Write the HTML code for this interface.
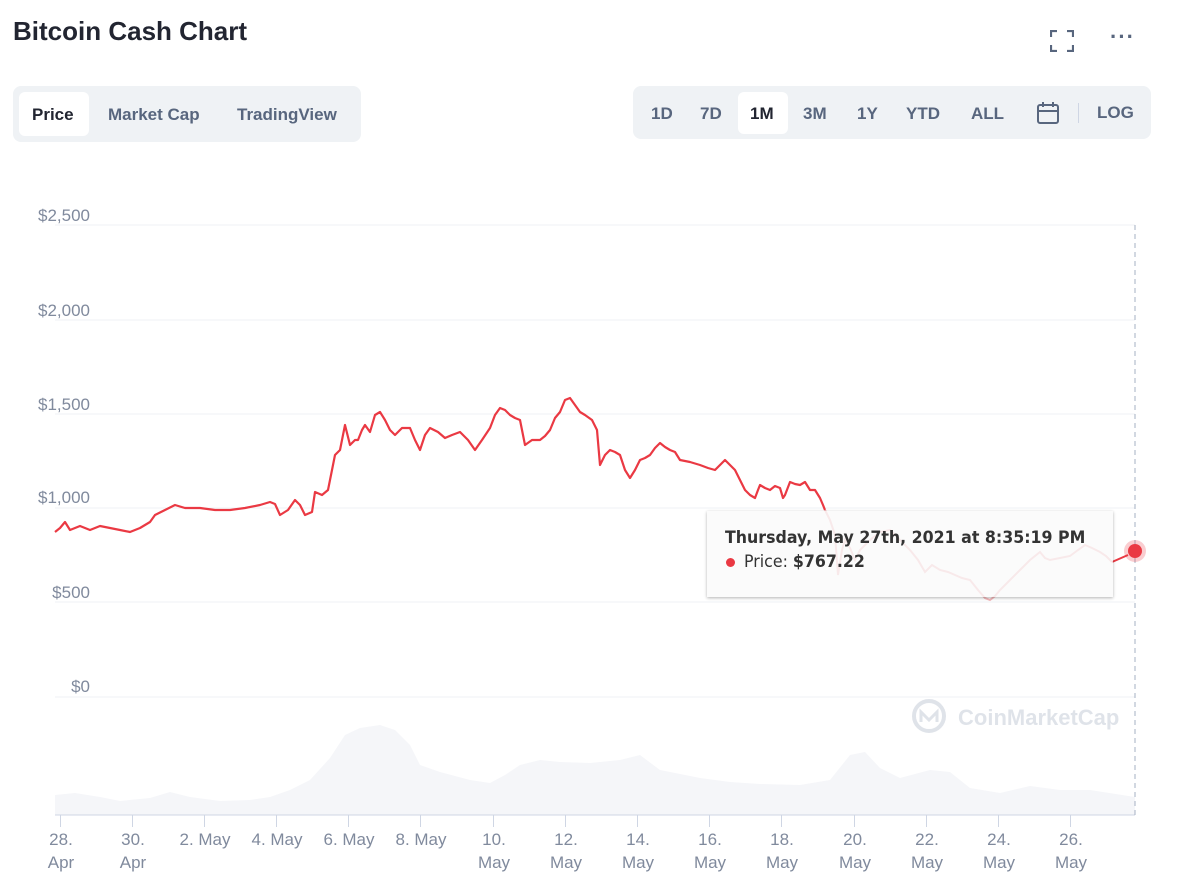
<!DOCTYPE html>
<html><head><style>
body{margin:0;width:1189px;height:891px;background:#fff;font-family:"Liberation Sans",sans-serif;position:relative;overflow:hidden}
.a{position:absolute}
.t{font-weight:bold;color:#58667e;font-size:17px}
</style></head><body>
<div class="a" style="left:13px;top:16px;font-size:26px;font-weight:bold;color:#222531">Bitcoin Cash Chart</div>
<svg class="a" style="left:1050px;top:30px" width="24" height="22"><path d="M1 7V1H7M17 1H23V7M23 15V21H17M7 21H1V15" stroke="#58667e" stroke-width="2.2" fill="none"/></svg>
<div class="a" style="left:1110px;top:24px;font-size:22px;color:#58667e;font-weight:bold;letter-spacing:1px">···</div>
<div class="a" style="left:13px;top:86px;width:348px;height:56px;background:#eff2f5;border-radius:8px"></div>
<div class="a" style="left:19px;top:92px;width:70px;height:44px;background:#fff;border-radius:6px"></div>
<div class="a t" style="left:32px;top:105px;color:#222531">Price</div>
<div class="a t" style="left:108px;top:105px">Market Cap</div>
<div class="a t" style="left:237px;top:105px">TradingView</div>
<div class="a" style="left:633px;top:86px;width:518px;height:53px;background:#eff2f5;border-radius:8px"></div>
<div class="a" style="left:738px;top:92px;width:50px;height:42px;background:#fff;border-radius:6px"></div>
<div class="a t" style="left:651px;top:104px">1D</div>
<div class="a t" style="left:700px;top:104px">7D</div>
<div class="a t" style="left:750px;top:104px;color:#222531">1M</div>
<div class="a t" style="left:803px;top:104px">3M</div>
<div class="a t" style="left:857px;top:104px">1Y</div>
<div class="a t" style="left:906px;top:104px">YTD</div>
<div class="a t" style="left:971px;top:104px">ALL</div>
<svg class="a" style="left:1036px;top:101px" width="24" height="24"><rect x="2" y="4" width="20" height="18" rx="2" stroke="#58667e" stroke-width="2" fill="none"/><path d="M2 10H22M7 1V6M17 1V6" stroke="#58667e" stroke-width="2"/></svg>
<div class="a" style="left:1078px;top:103px;width:1px;height:20px;background:#cfd6e4"></div>
<div class="a t" style="left:1097px;top:103px">LOG</div>
<svg class="a" style="left:0;top:0" width="1189" height="891">
<g stroke="#eff2f5" stroke-width="1"><path d="M55 225H1135M55 320H1135M55 414H1135M55 508H1135M55 602H1135M55 697H1135"/></g>
<g fill="#808a9d" font-size="17" text-anchor="end" font-family="Liberation Sans"><text x="90" y="221">$2,500</text><text x="90" y="316">$2,000</text><text x="90" y="410">$1,500</text><text x="90" y="503">$1,000</text><text x="90" y="598">$500</text><text x="90" y="692">$0</text></g>
<polygon fill="#f5f6f9" points="55,815 55,795 75,793 100,797 120,801 150,798 170,792 190,797 220,801 250,800 270,797 290,790 310,780 330,758 345,735 360,728 380,725 395,730 410,745 420,765 440,772 470,780 490,783 505,775 520,765 540,760 560,762 590,763 620,760 640,755 660,770 700,778 730,782 760,784 800,785 830,780 850,755 865,752 880,768 900,778 930,770 950,772 970,788 1000,793 1030,786 1060,790 1090,790 1135,797 1135,815"/>
<path d="M55 815H1135" stroke="#cfd6e4"/>
<path d="M1135 225V815" stroke="#a6b0c3" stroke-dasharray="5,4"/>
<polyline fill="none" stroke="#ea3943" stroke-width="2.2" stroke-linejoin="round" points="55,532 60,528 65,522 70,530 80,526 90,530 100,526 110,528 120,530 130,532 140,528 150,522 155,515 165,510 175,505 185,508 200,508 215,510 230,510 245,508 260,505 270,502 275,504 280,515 288,510 295,500 300,505 305,515 312,512 315,492 322,495 328,490 332,470 335,455 340,450 345,425 350,445 355,440 358,440 362,430 365,425 370,432 375,415 380,412 385,420 390,430 395,435 402,428 410,428 415,440 420,450 425,435 430,428 438,432 445,438 452,435 460,432 468,440 475,450 482,440 490,428 495,415 500,408 505,410 510,415 515,418 520,420 525,445 532,440 540,440 545,436 550,430 555,418 560,412 565,400 570,398 575,405 580,412 585,415 592,420 597,430 600,465 605,455 610,450 615,452 620,455 625,470 630,478 635,470 640,460 645,458 650,455 655,448 660,443 665,447 670,450 675,452 680,460 690,462 700,465 708,468 715,470 720,465 725,460 730,465 735,470 740,480 745,490 750,495 755,498 758,490 760,485 765,488 770,490 775,486 780,488 783,498 785,495 790,482 795,484 800,485 805,482 810,490 815,490 820,498 823,505 825,510"/>
<polyline fill="none" stroke="#f3b8bb" stroke-width="2" points="825,510 830,520 835,535 838,575 842,550 845,540 850,548 855,560 860,550 870,540 880,532 890,530 900,540 910,550 918,560 925,572 932,565 940,570 948,572 955,575 962,578 970,580 978,590 985,598 990,600 995,596 1000,590 1010,580 1020,570 1030,560 1040,552 1045,558 1050,560 1060,558 1070,556 1078,550 1085,545 1092,548 1100,552 1106,556 1112,562"/>
<circle cx="1135" cy="551" r="11" fill="#ea3943" opacity="0.25"/>
<circle cx="1135" cy="551" r="7" fill="#ea3943"/>
<path d="M1112 562L1128 555" stroke="#ea3943" stroke-width="2"/>
<g fill="#cfd6e4"><rect x="60" y="815" width="1" height="12"/><rect x="132" y="815" width="1" height="12"/><rect x="204" y="815" width="1" height="12"/><rect x="276" y="815" width="1" height="12"/><rect x="348" y="815" width="1" height="12"/><rect x="420" y="815" width="1" height="12"/><rect x="493" y="815" width="1" height="12"/><rect x="565" y="815" width="1" height="12"/><rect x="637" y="815" width="1" height="12"/><rect x="709" y="815" width="1" height="12"/><rect x="781" y="815" width="1" height="12"/><rect x="854" y="815" width="1" height="12"/><rect x="926" y="815" width="1" height="12"/><rect x="998" y="815" width="1" height="12"/><rect x="1070" y="815" width="1" height="12"/></g>
<g fill="#808a9d" font-size="17" text-anchor="middle" font-family="Liberation Sans">
<text x="61" y="845">28.</text><text x="61" y="868">Apr</text>
<text x="133" y="845">30.</text><text x="133" y="868">Apr</text>
<text x="205" y="845">2. May</text><text x="277" y="845">4. May</text><text x="349" y="845">6. May</text><text x="421" y="845">8. May</text>
<text x="494" y="845">10.</text><text x="494" y="868">May</text>
<text x="566" y="845">12.</text><text x="566" y="868">May</text>
<text x="638" y="845">14.</text><text x="638" y="868">May</text>
<text x="710" y="845">16.</text><text x="710" y="868">May</text>
<text x="782" y="845">18.</text><text x="782" y="868">May</text>
<text x="855" y="845">20.</text><text x="855" y="868">May</text>
<text x="927" y="845">22.</text><text x="927" y="868">May</text>
<text x="999" y="845">24.</text><text x="999" y="868">May</text>
<text x="1071" y="845">26.</text><text x="1071" y="868">May</text>
</g>
<g opacity="0.35"><circle cx="929" cy="716" r="15" fill="none" stroke="#a6b0c3" stroke-width="4"/><path d="M921 722V712L929 720L937 712V722" stroke="#a6b0c3" stroke-width="3" fill="none"/>
<text x="958" y="725" font-size="22" font-weight="bold" fill="#a6b0c3" font-family="Liberation Sans">CoinMarketCap</text></g>
</svg>
<div class="a" style="left:707px;top:511px;width:406px;height:86px;background:rgba(250,250,250,0.75);box-shadow:0 1px 3px rgba(0,0,0,0.3)"></div>
<div class="a" style="left:725px;top:528px;font-size:17px;font-weight:bold;color:#333;font-family:'DejaVu Sans',sans-serif;transform:scaleX(0.93);transform-origin:left">Thursday, May 27th, 2021 at 8:35:19 PM</div>
<div class="a" style="left:726px;top:558px;width:9px;height:9px;border-radius:50%;background:#ea3943"></div>
<div class="a" style="left:744px;top:552px;font-size:17px;color:#333;font-family:'DejaVu Sans',sans-serif;transform:scaleX(0.93);transform-origin:left">Price: <b>$767.22</b></div>
</body></html>
